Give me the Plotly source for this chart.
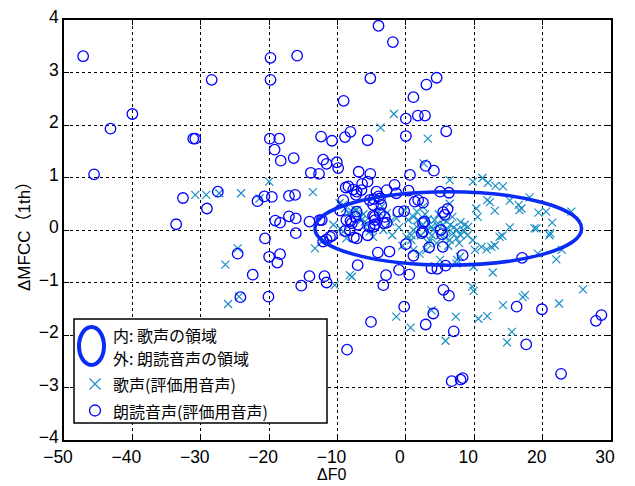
import plotly.graph_objects as go

# ---- data: 朗読音声 (circles) ----
circle_x = [-47.2, -19.8, -15.9, -28.4, -19.8, -40.0, -43.2, -31.1, -30.8, -19.9, -18.5, -19.2, -18.3, -16.4,
            -12.4, -10.8, -45.6, -12.1, -11.6, -10.1, -13.9, -12.7, -9.9, -32.6, -29.1, -27.5, -21.7, -20.7,
            -19.6, -17.1, -16.2, -19.1, -18.4, -17.1, -16.1, -14.1, -12.6, -33.6,
            -4.0, -1.9, -5.2, -9.1, 4.5, 3.0, 1.1, 0.0, 1.75, 2.8, 5.9, 0.0, -5.6, -8.1, -8.9, -6.9, -5.2,
            -5.6, -6.4, -8.8, -7.7, -7.3, 0.6, 2.9, 4.1, -1.65, -1.4, 0.4, 5.0, 6.3, -2.8, -4.0, -4.7, 1.8,
            2.5, -0.25, 5.45, 6.1, -3.6, -9.6, -8.1, -4.6, -4.5, -2.8, 2.7,
            -24.6, -20.6, -20.0, -18.4, -18.8, -22.4, -16.1, -14.1, -15.3, -11.9, -11.6, -24.2, -20.1, -12.1, -10.8,
            -7.05, -4.1, -2.4, -2.9, -3.3, -1.0, 0.5, 0.0, 1.1, 3.4, 5.4, 8.3, 3.75, 4.6, 5.8, 5.5, 6.3,
            -0.25, -5.1, 2.9, 4.0, 7.0, -8.6, 6.7, 8.0, 8.3, 17.0, 16.2, 19.9, 17.6, 22.7, 27.8, 28.6,
            -4.7, -5.6, -8.2, -7.6, -8.9, -3.2, 2.5, 5.1, 5.3, 2.5,
            -8.4, -7.2, -5.3, -4.3, -3.8, -7.2, -4.8, -8.7, -12.3, -7.2, -11.1, -11.6, -1.1, -3.1, 1.3,
            5.7, 2.3, -9.15, -6.5, -7.4, -7.9, -7.0, -5.3, -4.5, -4.8, -3.8]
circle_y = [3.31, 3.28, 3.32, 2.86, 2.86, 2.21, 1.93, 1.74, 1.74, 1.74, 1.74, 1.53, 1.32, 1.37,
            1.78, 1.70, 1.06, 1.34, 1.26, 1.29, 1.09, 1.07, 1.18, 0.61, 0.41, 0.73, 0.55, 0.64,
            0.63, 0.65, 0.67, 0.18, 0.14, 0.26, 0.22, 0.16, 0.19, 0.11,
            3.89, 3.58, 2.89, 2.46, 2.90, 2.77, 2.53, 2.12, 2.18, 2.18, 1.88, 1.79, 1.71, 1.87, 1.77, 1.11, 1.07,
            0.92, 0.88, 0.81, 0.77, 0.67, 1.05, 1.22, 1.13, 0.86, 0.70, 0.75, 0.73, 0.71, 0.76, 0.64, 0.59, 0.57,
            0.52, 0.36, 0.34, 0.40, 0.48, 0.37, 0.17, 0.25, 0.11, 0.14, 0.16,
            -0.45, -0.16, -0.51, -0.46, -0.62, -0.85, -0.06, -0.88, -1.06, -0.88, -1.00, -1.28, -1.27, -0.22, -0.11,
            -0.67, -0.43, -0.41, -0.86, -1.05, -0.76, -0.85, -0.27, -0.49, -0.33, -0.32, -0.48, -0.73, -0.74, -0.68, -1.14, -1.25,
            -1.46, -1.75, -1.80, -1.59, -1.93, -2.28, -2.88, -2.85, -2.82, -0.53, -1.46, -1.51, -2.18, -2.74, -1.73, -1.62,
            0.06, -0.10, 0.00, -0.14, -0.02, 0.13, -0.03, 0.00, -0.08, 0.13,
            0.83, 0.73, 0.57, 0.73, 0.60, 0.35, 0.27, 0.19, 0.19, -0.16, -0.13, -0.18, 0.35, 0.25, 0.54,
            0.29, -0.06, 0.57, 0.76, 0.25, 0.13, 0.10, 0.06, 0.19, 0.48, 0.32]

# ---- data: 歌声 (crosses) ----
cross_x = [-30.8, -29.2, -27.3, -24.1, -20.0, -21.4, -13.6,
           -1.75, -3.7, 3.2, 2.6, 6.4, 9.8, 11.2, 12.0, 13.1, 14.2, 11.9, 12.3, 15.2, 16.5, 18.1, 16.6, 19.4,
           24.2, 21.4, 10.3, 10.5, 13.0, 6.4,
           -24.6, -26.4, -26.0, -24.4, -13.3, -10.4,
           -7.9, -1.4, 0.7, 3.75, 7.3, 5.8, 9.7, 9.9, 10.6, 11.9, 9.9, 12.7, 11.05, 13.0, 14.2, 15.5, 14.8,
           17.1, 17.4, 22.4, 25.9, 22.0, 22.8, 19.3, 21.1, 18.8, 15.2, 14.1, 11.8, 7.5, 5.0,
           -12.1, -10.6, -9.7, -8.9, -7.9, -7.2, -8.2, -9.15, -6.5, -5.7, -4.8, -4.0, -2.8, -2.3, -1.4,
           -0.15, 0.35, 1.1, 0.1, 0.8,
           16.9, 19.1, 20.5, 21.0, 13.7, 12.5, 9.8, 10.1, 7.4, 7.9, 8.4, 8.6, 9.1, 6.9, 7.4, 6.4, 1.1, 1.8,
           1.6, 2.5, 1.6, 3.75, 4.2, 5.45, 3.5, 4.5, 3.0, 2.0, 0.8, 1.1,
           2.5, 3.0, 3.2, 4.0, 4.5, 5.0, 5.5, 6.0, 6.5, 7.0, 7.5, 8.0, 8.0, 6.2, 4.8, 3.8, 2.2, 7.8, 9.0,
           2.8, 5.8, 6.8, 3.3, -3.3, -2.0, -1.0, -0.5, -6.2, -3.5,
           -12.3, -9.6, -9.15, -8.4, -6.7, -6.0, -7.4, -5.3, -8.7]
cross_y = [0.67, 0.67, 0.70, 0.70, 0.92, 0.60, 0.72,
           2.21, 1.95, 1.74, 1.27, 0.95, 0.92, 0.99, 0.90, 0.84, 0.83, 0.57, 0.53, 0.56, 0.48, 0.62, 0.38, 0.33,
           0.35, 0.14, 0.41, 0.25, 0.37, 0.50,
           -0.35, -0.66, -1.41, -1.27, -0.35, -1.05,
           -0.89, -1.65, -1.86, -1.53, -1.65, -2.11, -1.08, -1.16, -1.69, -1.64, -0.70, -0.81, -0.32, -0.29, -1.43, -1.94, -2.14,
           -1.28, -1.24, -1.40, -1.13, -0.56, -0.38, -0.45, -0.06, 0.03, 0.05, -0.11, -0.37, -0.57, -0.57,
           -0.19, 0.10, 0.51, 0.41, 0.35, 0.38, -0.86, -0.03, 0.19, 0.10, -0.13, 0.35, 0.32, 0.16, 0.22,
           0.38, 0.19, 0.00, -0.13, -0.10,
           0.41, 0.03, 0.35, -0.10, -0.13, -0.32, -0.19, -0.38, -0.64, -0.51, 0.00, 0.10, 0.06, -0.06, -0.16, -0.19, 0.25, 0.19,
           0.06, 0.44, 0.35, 0.06, 0.19, 0.10, -0.19, -0.25, -0.38, -0.45, -0.19, -0.38,
           0.10, 0.00, 0.20, 0.00, 0.10, -0.10, 0.20, 0.00, 0.10, 0.05, 0.00, -0.10, 0.15, -0.30, 0.30, -0.10, -0.10, -0.25, -0.10,
           0.30, -0.15, 0.25, -0.25, 0.00, -0.10, 0.05, -0.30, 0.30, 0.45,
           -0.22, 0.03, 0.48, 0.32, 0.25, 0.16, 0.38, -0.03, -0.16]

# ellipse region (歌声の領域)
ell_center = [6.2, 0.03]
ell_semi = [19.5, 0.70]

x_ticks = [-50, -40, -30, -20, -10, 0, 10, 20, 30]
y_ticks = [-4, -3, -2, -1, 0, 1, 2, 3, 4]

legend_lines = ["内: 歌声の領域", "外: 朗読音声の領域", "歌声(評価用音声)", "朗読音声(評価用音声)"]
x_title = "ΔF0"
y_title = "ΔMFCC（1th）"

CROSS_COLOR = "#1b8fc6"
CIRCLE_COLOR = "#0000ff"
ELL_COLOR = "#0a2cf5"
FONT = "Noto Sans CJK JP"
NUMFONT = "Liberation Sans, Noto Sans CJK JP"

fig = go.Figure()
fig.add_trace(go.Scatter(x=cross_x, y=cross_y, mode="markers",
                         marker=dict(symbol="x-thin-open", size=8, color=CROSS_COLOR,
                                     line=dict(color=CROSS_COLOR, width=1.2)),
                         showlegend=False))
fig.add_trace(go.Scatter(x=circle_x, y=circle_y, mode="markers",
                         marker=dict(symbol="circle-open", size=10.5, color=CIRCLE_COLOR,
                                     line=dict(color=CIRCLE_COLOR, width=1.3)),
                         showlegend=False))

W, H = 635, 486
L, R, T, B = 64, 24, 20, 46
pw, ph = W - L - R, H - T - B


def px(xp):
    return (xp - L) / pw


def py(yp):
    return (H - B - yp) / ph


shapes = [
    dict(type="circle", xref="x", yref="y",
         x0=ell_center[0] - ell_semi[0], x1=ell_center[0] + ell_semi[0],
         y0=ell_center[1] - ell_semi[1], y1=ell_center[1] + ell_semi[1],
         line=dict(color=ELL_COLOR, width=3.5), layer="above"),
    # legend box
    dict(type="rect", xref="paper", yref="paper", x0=px(74), x1=px(327), y0=py(423), y1=py(319),
         line=dict(color="black", width=1.5), fillcolor="white", layer="above"),
    # legend ellipse glyph
    dict(type="circle", xref="paper", yref="paper", x0=px(79), x1=px(104), y0=py(365), y1=py(327),
         line=dict(color=ELL_COLOR, width=4), layer="above"),
    # legend circle glyph
    dict(type="circle", xref="paper", yref="paper", x0=px(89.5), x1=px(100.5), y0=py(416), y1=py(405),
         line=dict(color=CIRCLE_COLOR, width=1.3), layer="above"),
    # legend cross glyph
    dict(type="path", xref="paper", yref="paper",
         path=f"M {px(89.5)},{py(378.5)} L {px(100.5)},{py(389.5)} M {px(89.5)},{py(389.5)} L {px(100.5)},{py(378.5)}",
         line=dict(color=CROSS_COLOR, width=1.2), layer="above"),
]

annotations = []
for txt, yc in zip(legend_lines, [335, 358, 384, 410.5]):
    annotations.append(dict(text=txt, xref="paper", yref="paper", x=px(111), y=py(yc),
                            xanchor="left", yanchor="middle", align="left", showarrow=False,
                            font=dict(family=FONT, size=16, color="black")))
annotations.append(dict(text=x_title, xref="paper", yref="paper", x=px(331), y=py(474),
                        xanchor="center", yanchor="middle", showarrow=False,
                        font=dict(family=NUMFONT, size=16, color="black")))
annotations.append(dict(text=y_title, xref="paper", yref="paper", x=px(24), y=py(232),
                        xanchor="center", yanchor="middle", textangle=-90, showarrow=False,
                        font=dict(family=NUMFONT, size=17, color="black")))

axis_common = dict(showline=True, linecolor="black", linewidth=1.5, mirror="ticks",
                   ticks="inside", ticklen=5, tickcolor="black", tickwidth=1,
                   showgrid=True, gridcolor="black", griddash="dot", gridwidth=1,
                   zeroline=False, automargin=False,
                   tickfont=dict(family=NUMFONT, size=17.5, color="black"))

fig.update_layout(
    width=W, height=H,
    margin=dict(l=L, r=R, t=T, b=B),
    paper_bgcolor="white", plot_bgcolor="white",
    shapes=shapes, annotations=annotations,
    xaxis=dict(range=[-50, 30], tickvals=x_ticks, ticklabelshift=-6, ticklabelstandoff=0, **axis_common),
    yaxis=dict(range=[-4, 4], tickvals=y_ticks, ticklabelshift=-3, ticklabelstandoff=0, **axis_common),
)

fig.write_html("out.html", config={"displayModeBar": False},
               post_script="document.body.style.margin='0px';document.body.style.overflow='hidden';")
